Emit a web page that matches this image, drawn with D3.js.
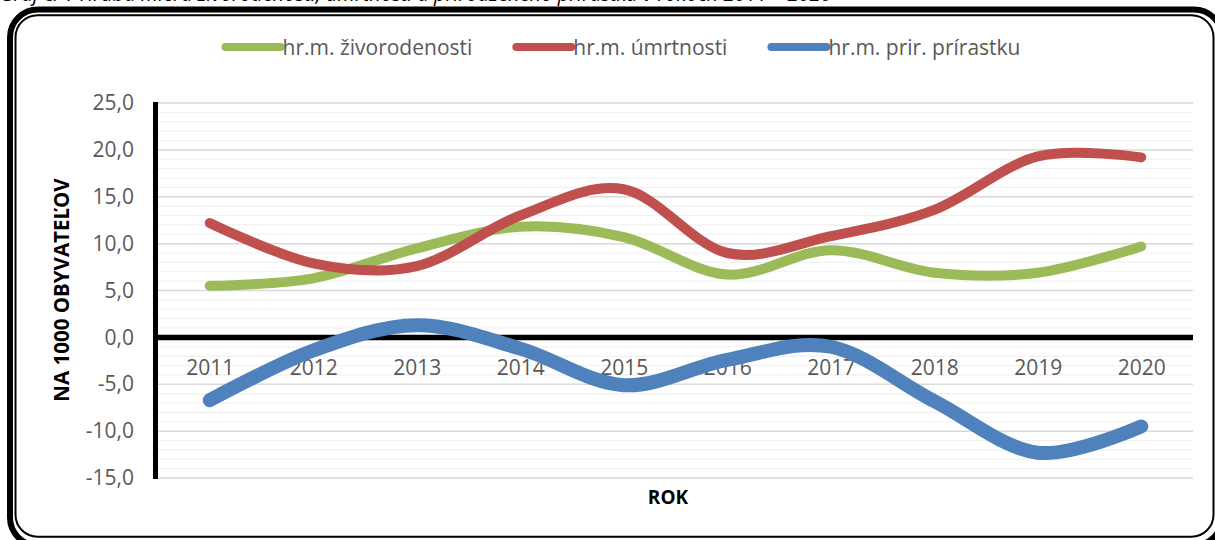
<!DOCTYPE html>
<html>
<head>
<meta charset="utf-8">
<script src="https://cdn.jsdelivr.net/npm/d3@7"></script>
<style>
    html, body { margin: 0; padding: 0; background: #fff; }
    text { font-family: "Open Sans", "Noto Sans", sans-serif; }
</style>
</head>
<body>
<svg id="figure"></svg>
<script>
// years on the x axis
const years = ["2011", "2012", "2013", "2014", "2015", "2016", "2017", "2018", "2019", "2020"];

// rates per 1000 inhabitants
const birthRate = [5.5, 6.3, 9.5, 11.8, 10.7, 6.7, 9.3, 6.9, 6.9, 9.7];
const deathRate = [12.2, 7.9, 7.6, 13.0, 15.8, 9.0, 10.8, 13.6, 19.3, 19.2];
const naturalIncrease = [-6.7, -1.4, 1.3, -1.2, -5.1, -2.4, -1.0, -6.8, -12.3, -9.5];

const yTicks = [25, 20, 15, 10, 5, 0, -5, -10, -15];

const seriesNames = ["hr.m. živorodenosti", "hr.m. úmrtnosti", "hr.m. prir. prírastku"];

/**
 * Smoothed line chart inside a rounded double frame
 */
class RateChart {
    constructor() {
        this.width = 1215;
        this.height = 540;
        this.plot = {left: 158, right: 1193, top: 103, bottom: 478};

        this.colors = ["#9BBB59", "#C0504D", "#4F81BD"];
        this.strokes = [10, 10, 14];

        this.svg = d3.select("#figure")
            .attr("width", this.width)
            .attr("height", this.height);

        this.x = d3.scalePoint()
            .domain(years)
            .range([this.plot.left, this.plot.right])
            .padding(0.5);

        this.y = d3.scaleLinear()
            .domain([-15, 25])
            .range([this.plot.bottom, this.plot.top]);
    }

    draw() {
        const svg = this.svg;

        // caption above the frame, mostly outside the picture
        svg.append("text")
            .attr("x", 0)
            .attr("y", 1)
            .attr("font-size", 20)
            .attr("font-style", "italic")
            .attr("fill", "#000")
            .text("Graf č. 1 Hrubá miera živorodenosti, úmrtnosti a prirodzeného prírastku v rokoch 2011 – 2020");

        // frame: thick outer line + thin inner line
        svg.append("rect")
            .attr("x", 10).attr("y", 9.5)
            .attr("width", 1212).attr("height", 536)
            .attr("rx", 28)
            .attr("fill", "#fff")
            .attr("stroke", "#000")
            .attr("stroke-width", 6);

        svg.append("rect")
            .attr("x", 15.5).attr("y", 15.2)
            .attr("width", 1198).attr("height", 521.5)
            .attr("rx", 22)
            .attr("fill", "none")
            .attr("stroke", "#000")
            .attr("stroke-width", 2);

        // minor gridlines every 1, major every 5
        const minor = d3.range(-15, 26, 1).filter(v => v % 5 !== 0);
        svg.append("g").selectAll("line")
            .data(minor)
            .join("line")
            .attr("x1", this.plot.left).attr("x2", this.plot.right)
            .attr("y1", d => this.y(d)).attr("y2", d => this.y(d))
            .attr("stroke", "#F0F0F0")
            .attr("stroke-width", 1.2);

        svg.append("g").selectAll("line")
            .data(yTicks)
            .join("line")
            .attr("x1", this.plot.left).attr("x2", this.plot.right)
            .attr("y1", d => this.y(d)).attr("y2", d => this.y(d))
            .attr("stroke", "#D9D9D9")
            .attr("stroke-width", 1.5);

        // y axis labels, hyphen minus and decimal comma
        const fmt = d3.formatLocale({decimal: ",", thousands: " ", grouping: [3], currency: ["", ""], minus: "-"})
            .format(".1f");
        const yAxis = svg.append("g")
            .attr("transform", "translate(" + (this.plot.left - 2) + ",0)")
            .call(d3.axisLeft(this.y)
                .tickValues(yTicks)
                .tickSize(0)
                .tickPadding(22)
                .tickFormat(fmt));
        yAxis.select(".domain").remove();
        yAxis.selectAll("text")
            .attr("font-family", "Open Sans")
            .attr("font-size", 21)
            .attr("fill", "#595959");

        // y axis line and zero line
        svg.append("line")
            .attr("x1", this.plot.left - 2.5).attr("x2", this.plot.left - 2.5)
            .attr("y1", this.plot.top - 1).attr("y2", this.plot.bottom + 1)
            .attr("stroke", "#000")
            .attr("stroke-width", 5);

        svg.append("line")
            .attr("x1", this.plot.left - 5).attr("x2", this.plot.right)
            .attr("y1", this.y(0)).attr("y2", this.y(0))
            .attr("stroke", "#000")
            .attr("stroke-width", 5.5);

        // x axis labels just under the zero line
        const xAxis = svg.append("g")
            .attr("transform", "translate(0," + this.y(0) + ")")
            .call(d3.axisBottom(this.x).tickSize(0).tickPadding(23));
        xAxis.select(".domain").remove();
        xAxis.selectAll("text")
            .attr("font-family", "Open Sans")
            .attr("font-size", 21)
            .attr("fill", "#595959");

        // series lines, excel like smoothing
        const allSeries = [birthRate, deathRate, naturalIncrease];
        const line = d3.line()
            .x((d, i) => this.x(years[i]))
            .y(d => this.y(d))
            .curve(d3.curveCatmullRom.alpha(0));

        allSeries.forEach((values, k) => {
            svg.append("path")
                .datum(values)
                .attr("d", line)
                .attr("fill", "none")
                .attr("stroke", this.colors[k])
                .attr("stroke-width", this.strokes[k])
                .attr("stroke-linecap", "round")
                .attr("stroke-linejoin", "round");
        });

        // axis titles
        svg.append("text")
            .attr("transform", "translate(69,290) rotate(-90)")
            .attr("text-anchor", "middle")
            .attr("font-size", 20.5)
            .attr("font-weight", "bold")
            .attr("fill", "#000")
            .text("NA 1000 OBYVATEĽOV");

        svg.append("text")
            .attr("x", 668)
            .attr("y", 504)
            .attr("text-anchor", "middle")
            .attr("font-size", 19)
            .attr("font-weight", "bold")
            .attr("fill", "#000")
            .text("ROK");

        // legend, centered above the plot
        const legend = svg.append("g");
        let cursor = 0;
        seriesNames.forEach((name, k) => {
            const item = legend.append("g").attr("transform", "translate(" + cursor + ",0)");
            item.append("line")
                .attr("x1", 4).attr("x2", 59)
                .attr("y1", 0).attr("y2", 0)
                .attr("stroke", this.colors[k])
                .attr("stroke-width", 8)
                .attr("stroke-linecap", "round");
            const t = item.append("text")
                .attr("x", 61)
                .attr("y", 7.5)
                .attr("font-size", 21)
                .attr("fill", "#595959")
                .text(name);
            cursor += 61 + t.node().getComputedTextLength() + 40;
        });
        const legendWidth = cursor - 40;
        legend.attr("transform", "translate(" + (621 - legendWidth / 2) + ",47)");
    }
}

const chart = new RateChart();
chart.draw();
</script>
</body>
</html>
